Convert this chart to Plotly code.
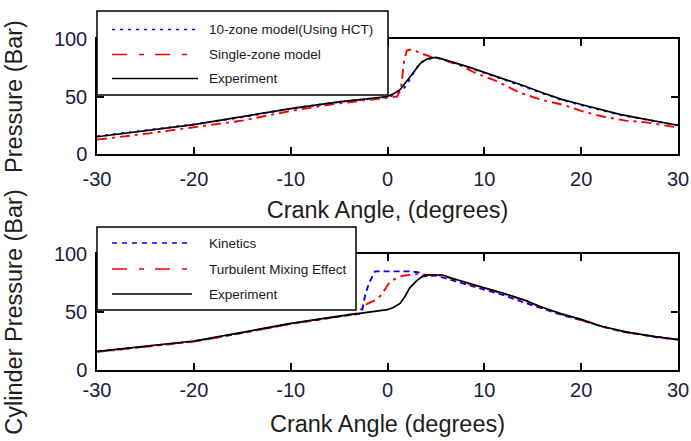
import plotly.graph_objects as go

# ---------------- data ----------------
# Top panel
exp1_x = [-30, -25, -20, -15, -10, -5, -2, 0, 0.6, 1.3, 2.0, 2.7, 3.4, 4.1, 5.0, 5.6, 6.5, 8.5, 10, 12, 14, 16, 18, 20, 22, 24, 26, 28, 30]
exp1_y = [15, 20, 25.6, 32.5, 39.5, 45.3, 48.3, 50, 52.3, 56, 63.5, 71.7, 78.8, 82.7, 84, 82.7, 80.6, 75.3, 71, 65.4, 59.5, 53.3, 47.5, 43, 38.6, 34.4, 31.2, 28.2, 25]

tz_x = [-30, -25, -20, -15, -10, -5, -2, 0, 0.8, 1.5, 2.0, 2.7, 3.3, 4.1, 5.0, 5.6, 6.5, 8.5, 10, 12, 14, 16, 18, 20, 22, 24, 26, 28, 30]
tz_y = [15.3, 20.5, 25.8, 32, 39.5, 45.2, 47.8, 49.5, 51.5, 55, 60.6, 70, 79, 82.5, 84, 82.5, 80.2, 74.8, 70.5, 65, 59, 52.8, 47, 42.5, 38.3, 34, 31, 28, 24.8]

sz_x = [-30, -25, -20, -15, -10, -5, -2, 0, 1.0, 1.4, 1.7, 2.0, 2.5, 3.5, 4.5, 5.2, 7.5, 9.2, 11.2, 13.7, 15.8, 18.2, 20, 22.2, 24.6, 26.7, 29.4, 30]
sz_y = [12.5, 17.5, 23.3, 29, 37.5, 44, 47, 48.8, 50, 58, 80, 90, 91, 87.5, 84.5, 83.5, 77, 70, 63.6, 53.2, 47.4, 42.6, 37.5, 32.6, 29, 27.5, 24, 23]

# Bottom panel
exp2_x = [-30, -25, -20, -15, -10, -5, -3, -1, 0, 0.6, 1.3, 1.8, 2.3, 3.0, 3.7, 4.0, 5.7, 6.4, 8.1, 10, 11.9, 14.3, 15.8, 17.9, 20, 22.2, 24.6, 27.3, 30]
exp2_y = [16, 20.5, 25, 32.5, 40.2, 46.5, 48.6, 50.8, 52, 53.8, 57.4, 63.4, 70.8, 76.8, 81.3, 81.9, 81.9, 79.7, 75.3, 70.8, 66.4, 59.8, 54.5, 48.6, 43.6, 37.5, 32.8, 29.2, 26.3]

kin_x = [-30, -25, -20, -15, -10, -5, -2.8, -2.6, -2.3, -1.9, -1.5, -1.3, 0, 1, 2.3, 3.2, 3.5, 3.8, 5, 6, 8, 10, 12, 14, 16, 18, 20, 22, 24, 26, 28, 30]
kin_y = [15.8, 20, 24.6, 32, 39.8, 46, 48.5, 51.8, 65, 75, 82, 85, 85, 85, 85, 84.2, 80.4, 80.8, 81.5, 79, 74, 69.5, 64.5, 58.5, 53, 47.5, 43, 37.8, 33.5, 30.5, 28, 26.3]

tm_x = [-30, -25, -20, -15, -10, -5, -3, -2.6, -2, -1.2, -0.6, 0.3, 1.6, 3.3, 4, 5.7, 6.4, 8.1, 10, 12, 14.3, 16, 18, 20, 22.2, 24.6, 27.3, 30]
tm_y = [15.6, 20.2, 24.5, 32, 39.8, 46.2, 49, 54, 57.5, 60.4, 65, 76.8, 81.3, 83, 82, 81.5, 79.5, 75, 70.3, 65.8, 59.5, 53.8, 48, 43.2, 37.4, 32.6, 29, 26]

x_ticks = [-30, -20, -10, 0, 10, 20, 30]
x_tick_labels = ["-30", "-20", "-10", "0", "10", "20", "30"]
y_ticks = [0, 50, 100]
y_tick_labels = ["0", "50", "100"]

top_names = ["10-zone model(Using HCT)", "Single-zone model", "Experiment"]
bot_names = ["Kinetics", "Turbulent Mixing Effect", "Experiment"]

# ---------------- styles ----------------
BLUE, RED, BLACK = "#0000ff", "#ff0000", "#000000"
DOT = "3px,5px"
DASH = "6px,4px"
DASHDOT = "10px,5px,3px,5px"
TICKC = "#1c1c40"
TXT = "#1e1e1e"
FONT = "Liberation Sans, Arial, sans-serif"

W, H = 691, 441
ML, MR, MT, MB = 97, 13, 39, 71
PW, PH = W - ML - MR, H - MT - MB


def px_x(p):
    return (p - ML) / PW


def px_y(p):
    return (H - MB - p) / PH


fig = go.Figure()

series = [
    (tz_x, tz_y, top_names[0], BLUE, DOT, "x", "y"),
    (sz_x, sz_y, top_names[1], RED, DASHDOT, "x", "y"),
    (exp1_x, exp1_y, top_names[2], BLACK, "solid", "x", "y"),
    (kin_x, kin_y, bot_names[0], BLUE, DASH, "x2", "y2"),
    (tm_x, tm_y, bot_names[1], RED, DASHDOT, "x2", "y2"),
    (exp2_x, exp2_y, bot_names[2], BLACK, "solid", "x2", "y2"),
]
for xs, ys, nm, col, dsh, xa, ya in series:
    fig.add_trace(go.Scatter(x=xs, y=ys, name=nm, mode="lines", xaxis=xa, yaxis=ya,
                             line=dict(color=col, width=1.9 if col != BLACK else 1.7, dash=dsh),
                             showlegend=False))

top_dom = [px_y(154), 1.0]
bot_dom = [0.0, px_y(254)]

axis_common = dict(showline=True, linecolor="black", linewidth=1.5, mirror="ticks",
                   ticks="inside", ticklen=7, tickwidth=1.5, tickcolor="black",
                   showgrid=False, zeroline=False, automargin=False,
                   tickfont=dict(family=FONT, size=20, color=TICKC))

title_font = dict(family=FONT, size=23.5, color=TXT)

fig.update_layout(
    width=W, height=H,
    margin=dict(l=ML, r=MR, t=MT, b=MB),
    paper_bgcolor="white", plot_bgcolor="white",
    xaxis=dict(domain=[0, 1], anchor="y", range=[-30, 30], tickvals=x_ticks, ticktext=x_tick_labels,
               ticklabelstandoff=6,
               title=dict(text="Crank Angle, (degrees)", font=title_font, standoff=13),
               **axis_common),
    yaxis=dict(domain=top_dom, anchor="x", range=[0, 100], tickvals=y_ticks, ticktext=y_tick_labels,
               ticklabelstandoff=4,
               title=dict(text="Pressure (Bar)", font=title_font, standoff=25),
               **axis_common),
    xaxis2=dict(domain=[0, 1], anchor="y2", range=[-30, 30], tickvals=x_ticks, ticktext=x_tick_labels,
                ticklabelstandoff=1,
                title=dict(text="Crank Angle (degrees)", font=title_font, standoff=16),
                **axis_common),
    yaxis2=dict(domain=bot_dom, anchor="x2", range=[0, 100], tickvals=y_ticks, ticktext=y_tick_labels,
                ticklabelstandoff=4,
                title=dict(text="Cylinder Pressure (Bar)", font=title_font, standoff=25),
                **axis_common),
)

# ---------------- custom MATLAB-style legends ----------------
LEG_DASHDOT = "15px,12px,5px,11px"
legends = [
    dict(box=(97, 11, 388, 95), rows=[29.5, 54.5, 78.5], x0=112, x1=198, tx=207,
         names=top_names, styles=[(BLUE, DOT), (RED, LEG_DASHDOT), (BLACK, "solid")]),
    dict(box=(97, 227, 356, 310), rows=[243, 269, 294], x0=112, x1=192, tx=207,
         names=bot_names, styles=[(BLUE, "5px,5px"), (RED, LEG_DASHDOT), (BLACK, "solid")]),
]
for lg in legends:
    bx0, by0, bx1, by1 = lg["box"]
    fig.add_shape(type="rect", xref="paper", yref="paper",
                  x0=px_x(bx0), x1=px_x(bx1), y0=px_y(by1), y1=px_y(by0),
                  fillcolor="white", line=dict(color="black", width=1.5), layer="above")
    for ry, nm, (col, dsh) in zip(lg["rows"], lg["names"], lg["styles"]):
        fig.add_shape(type="line", xref="paper", yref="paper",
                      x0=px_x(lg["x0"]), x1=px_x(lg["x1"]), y0=px_y(ry), y1=px_y(ry),
                      line=dict(color=col, width=1.5, dash=dsh), layer="above")
        fig.add_annotation(xref="paper", yref="paper", x=px_x(lg["tx"]), y=px_y(ry),
                           text=nm, showarrow=False, xanchor="left", yanchor="middle",
                           font=dict(family=FONT, size=13.5, color="#1a1a1a"))

fig.write_html("out.html")
